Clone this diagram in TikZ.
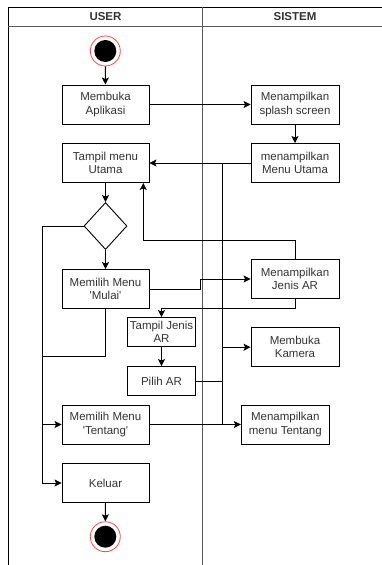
\documentclass[tikz,border=0pt]{standalone}
\usepackage{fontspec}
\setmainfont{Liberation Sans}
\usetikzlibrary{arrows.meta,shapes.geometric}
\definecolor{txtgray}{RGB}{51,51,51}
\definecolor{lanegray}{RGB}{90,90,90}
\definecolor{ringred}{RGB}{255,70,70}
\begin{document}
\begin{tikzpicture}[x=1pt,y=-1pt,
  actbox/.style={draw=black,line width=0.9pt,fill=white,text=txtgray,align=center,
    minimum width=87pt,minimum height=39pt,inner sep=1pt,
    font=\fontsize{11.5}{13.3}\selectfont},
  smallbox/.style={actbox,minimum width=68.5pt,minimum height=29pt},
  decbox/.style={diamond,draw=black,line width=0.9pt,fill=white,minimum width=43pt,minimum height=47pt,inner sep=0pt},
  flow/.style={line width=0.9pt,-{Stealth[length=7pt,width=7pt,inset=1.5pt]}},
  plain/.style={line width=0.9pt},
  hdr/.style={text=txtgray,font=\fontsize{11.5}{13}\selectfont\bfseries}]
\useasboundingbox (0,0) rectangle (382,565);
% swimlane frame
\draw[line width=0.9pt] (8,565) -- (8,7) -- (382,7);
\draw[lanegray,line width=0.9pt] (8,26) -- (382,26);
\draw[lanegray,line width=1.5pt] (202.5,7) -- (202.5,565);
\node[hdr] (huser) at (105.5,17) {USER};
\node[hdr] (hsis) at (295,17) {SISTEM};
% start / end
\node[circle,draw=ringred,line width=0.8pt,minimum size=30pt,inner sep=0pt] (st) at (105.3,51) {};
\fill[black] (st.center) circle (11pt);
\node[circle,draw=ringred,line width=0.8pt,minimum size=30pt,inner sep=0pt] (en) at (105.3,536.7) {};
\fill[black] (en.center) circle (11pt);
% activities
\node[actbox] (ma) at (105.5,104.5) {Membuka\\Aplikasi};
\node[actbox,minimum width=88pt] (ss) at (295,104.5) {Menampilkan\\splash screen};
\node[actbox] (tmu) at (105.5,163) {Tampil menu\\Utama};
\node[actbox,minimum width=88pt] (mmu) at (295,163) {menampilkan\\Menu Utama};
\node[decbox] (dec) at (105.5,226) {};
\node[actbox] (mm) at (105.5,289) {Memilih Menu\\\textquotesingle Mulai\textquotesingle};
\node[actbox,minimum width=88pt] (mjar) at (295,279) {Menampilkan\\Jenis AR};
\node[smallbox] (tjar) at (161.5,332) {Tampil Jenis\\AR};
\node[smallbox] (par) at (161.5,381) {Pilih AR};
\node[actbox,minimum width=88pt] (mk) at (295,347.2) {Membuka\\Kamera};
\node[actbox] (mt) at (105.5,424.5) {Memilih Menu\\\textquotesingle Tentang\textquotesingle};
\node[actbox,minimum width=88pt] (mmt) at (285.3,424.5) {Menampilkan\\menu Tentang};
\node[actbox] (kel) at (105.5,483) {Keluar};
% helper coordinates
\coordinate (j1) at (222,163);
\coordinate (j2) at (222,424.5);
\coordinate (L1) at (42.7,226);
\coordinate (L3) at (42.7,356.7);
\coordinate (s1) at (200,289);
\coordinate (b1) at (143.3,240);
\coordinate (b2) at (161.5,308.3);
% connectors
\draw[flow] (st) -- (ma);
\draw[flow] (ma) -- (ss);
\draw[flow] (ss) -- (mmu);
\draw[flow] (mmu) -- (tmu);
\draw[plain] (j1) -- (j2);
\draw[flow] (tmu) -- (dec);
\draw[flow] (dec) -- (mm);
\draw[flow] (dec.west) -- (L1) |- (kel.west);
\draw[flow] (L1 |- mt.west) -- (mt.west);
\draw[plain] (mm.south) |- (L3);
\draw[flow] (mm.east) -- (s1) |- (mjar.west);
\draw[flow] (mjar.north) |- (b1) -- (b1 |- tmu.south);
\draw[flow] (mjar.south) |- (b2) -- (tjar.north);
\draw[flow] (tjar) -- (par);
\draw[flow] (par.east) -- (par.east -| j1) |- (mk.west);
\draw[flow] (mt) -- (mmt);
\draw[flow] (kel) -- (en);
\end{tikzpicture}
\end{document}
